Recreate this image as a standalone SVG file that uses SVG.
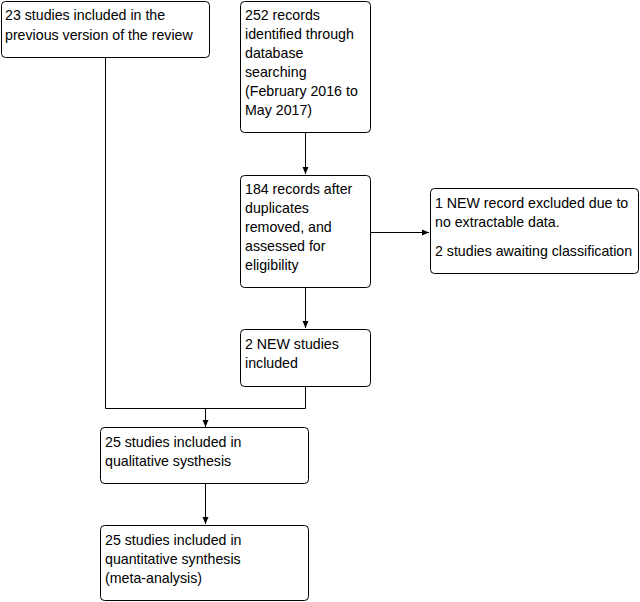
<svg xmlns="http://www.w3.org/2000/svg" width="640" height="602" viewBox="0 0 640 602">
<defs>
<style>
.box{fill:#fff;stroke:#000;stroke-width:1}
.t{font-family:"Liberation Sans",Arial,sans-serif;font-size:14.2px;fill:#000}
.c{fill:none;stroke:#000;stroke-width:1}
</style>
<marker id="ah" markerWidth="8" markerHeight="8" refX="7" refY="4" orient="auto" markerUnits="userSpaceOnUse">
<path d="M0,1 L7,4 L0,7 Z" fill="#000"/>
</marker>
</defs>
<rect width="640" height="602" fill="#fff"/>
<g id="connectors">
<path class="c" d="M305.5,132 V174" marker-end="url(#ah)"/>
<path class="c" d="M305.5,288 V328" marker-end="url(#ah)"/>
<path class="c" d="M370,232.5 H429" marker-end="url(#ah)"/>
<path class="c" d="M105.5,58 V408.5 H305.5 V387"/>
<path class="c" d="M205.5,408.5 V427" marker-end="url(#ah)"/>
<path class="c" d="M205.5,484 V524" marker-end="url(#ah)"/>
</g>
<g id="n1">
<rect class="box" x="1.5" y="1.5" width="208" height="56" rx="4"/>
<text class="t" x="5" y="20">23 studies included in the</text>
<text class="t" x="5" y="40">previous version of the review</text>
</g>
<g id="n2">
<rect class="box" x="240.5" y="1.5" width="130" height="131" rx="4"/>
<text class="t" x="245" y="20">252 records</text>
<text class="t" x="245" y="39">identified through</text>
<text class="t" x="245" y="58">database</text>
<text class="t" x="245" y="77">searching</text>
<text class="t" x="245" y="96">(February 2016 to</text>
<text class="t" x="245" y="115">May 2017)</text>
</g>
<g id="n3">
<rect class="box" x="240.5" y="175.5" width="130" height="112" rx="4"/>
<text class="t" x="245" y="194">184 records after</text>
<text class="t" x="245" y="213">duplicates</text>
<text class="t" x="245" y="232">removed, and</text>
<text class="t" x="245" y="251">assessed for</text>
<text class="t" x="245" y="270">eligibility</text>
</g>
<g id="n4">
<rect class="box" x="430.5" y="188.5" width="208" height="85" rx="4"/>
<text class="t" x="435" y="208">1 NEW record excluded due to</text>
<text class="t" x="435" y="227">no extractable data.</text>
<text class="t" x="435" y="256">2 studies awaiting classification</text>
</g>
<g id="n5">
<rect class="box" x="240.5" y="329.5" width="130" height="57" rx="4"/>
<text class="t" x="245" y="349">2 NEW studies</text>
<text class="t" x="245" y="368">included</text>
</g>
<g id="n6">
<rect class="box" x="100.5" y="427.5" width="208" height="56" rx="4"/>
<text class="t" x="105" y="447">25 studies included in</text>
<text class="t" x="105" y="466">qualitative systhesis</text>
</g>
<g id="n7">
<rect class="box" x="100.5" y="525.5" width="208" height="75" rx="4"/>
<text class="t" x="105" y="545">25 studies included in</text>
<text class="t" x="105" y="564">quantitative synthesis</text>
<text class="t" x="105" y="583">(meta-analysis)</text>
</g>
</svg>
